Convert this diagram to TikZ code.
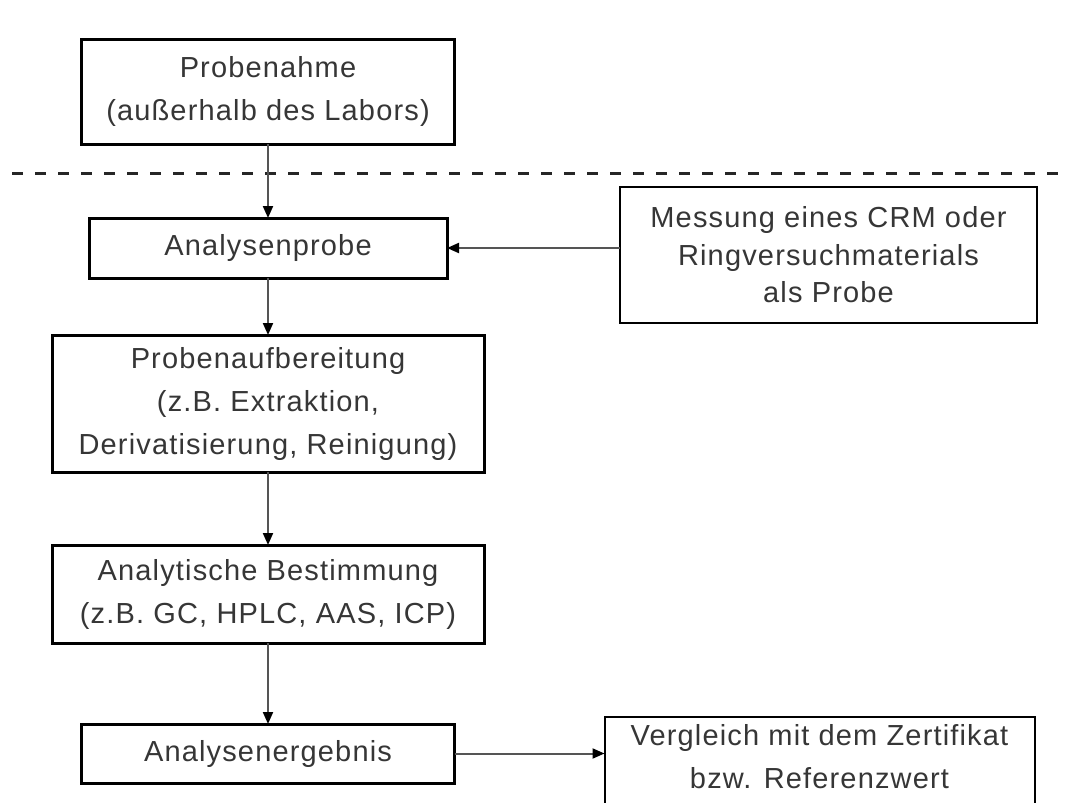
\documentclass[tikz,border=0pt]{standalone}
\usepackage{fontspec}
\setmainfont{Liberation Sans}[LetterSpace=4]
\usetikzlibrary{arrows.meta,positioning}
\definecolor{txtgray}{HTML}{363636}
\definecolor{arrgray}{HTML}{555555}
\tikzset{
  stepbox/.style={draw, line width=3pt, align=center, text=txtgray, outer sep=0pt,
              font=\fontsize{29pt}{43pt}\selectfont, inner sep=4pt},
  sidebox/.style={stepbox, line width=2pt},
  arr/.style={-{Triangle[length=12pt, width=10pt, color=black]}, line width=2pt, draw=arrgray},
  sep/.style={line width=3pt, dash pattern=on 11pt off 12pt, draw=black!85}
}
\begin{document}
\begin{tikzpicture}[x=1pt, y=-1pt]
    \fill[white] (0,0) rectangle (1066,803);
    \useasboundingbox (0,0) rectangle (1066,803);
    \node[stepbox, minimum width=373pt, minimum height=105pt] (ent) at (268,91.5) {Probenahme\\(außerhalb des Labors)};
    \node[stepbox, minimum width=358pt, minimum height=60pt, below=74pt of ent] (probe) {Analysenprobe};
    \node[stepbox, minimum width=432pt, minimum height=137pt, below=57pt of probe] (aufb) {Probenaufbereitung\\(z.B. Extraktion,\\Derivatisierung, Reinigung)};
    \node[stepbox, minimum width=432pt, minimum height=98pt, below=73pt of aufb] (best) {Analytische Bestimmung\\(z.B. GC, HPLC, AAS, ICP)};
    \node[stepbox, minimum width=373pt, minimum height=59pt, below=81pt of best] (erg) {Analysenergebnis};
    \node[sidebox, font=\fontsize{29pt}{37.5pt}\selectfont, minimum width=417pt, minimum height=136pt,
          right=173pt of probe, yshift=-7pt] (crm) {Messung eines CRM oder\\Ringversuchmaterials\\als Probe};
    \node[sidebox, draw=none, minimum width=430pt, minimum height=80pt,
          right=150pt of erg, yshift=-3pt] (vgl) {Vergleich mit dem Zertifikat\\bzw. Referenzwert};
    \draw[line width=2pt] ([yshift=-30pt]vgl.south west) -- (vgl.north west) -- (vgl.north east) -- ([yshift=-30pt]vgl.south east);
    \coordinate (sl) at (12,173);
    \coordinate (sr) at (1066,173);
    \draw[sep] (sl) -- (sr);
    \draw[arr] (ent.south) -- (probe.north);
    \draw[arr] (probe.south) -- (aufb.north);
    \draw[arr] (aufb.south) -- (best.north);
    \draw[arr] (best.south) -- (erg.north);
    \draw[arr] (crm.west |- probe.east) -- (probe.east);
    \draw[arr] (erg.east) -- (erg.east -| vgl.west);
  \end{tikzpicture}
\end{document}
